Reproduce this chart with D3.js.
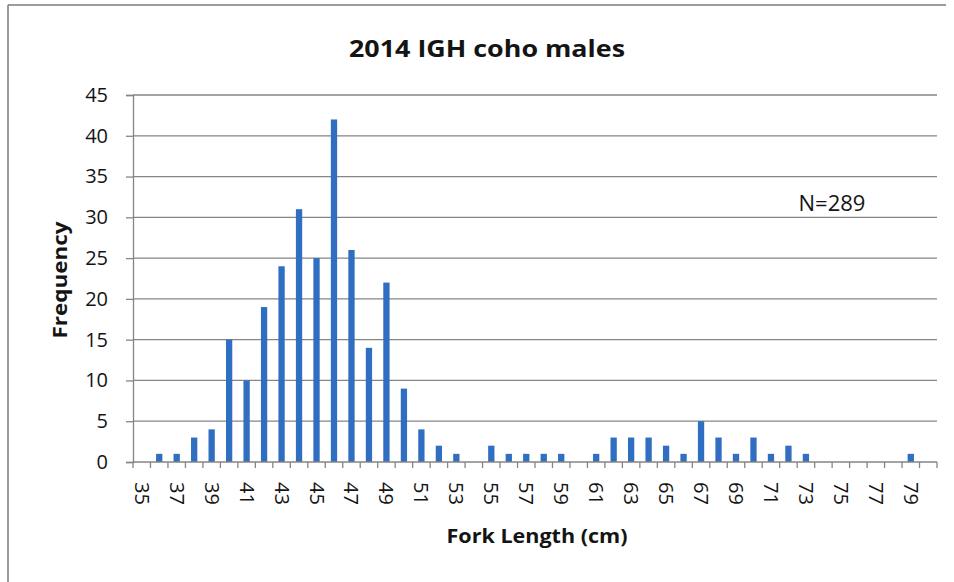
<!DOCTYPE html>
<html>
<head>
<meta charset="utf-8">
<script src="https://cdn.jsdelivr.net/npm/d3@7"></script>
<style>
  html, body { margin: 0; padding: 0; background: #fff; }
  svg { display: block; font-family: "Open Sans", "Liberation Sans", sans-serif; }
</style>
</head>
<body>
<svg id="chart" width="954" height="582"></svg>
<script>
// Fork length classes (cm), 35 through 80
const lengths = d3.range(35, 81);
// Number of males in each length class
const frequency = [
  0, 1, 1, 3, 4, 15, 10, 19, 24, 31,
  25, 42, 26, 14, 22, 9, 4, 2, 1, 0,
  2, 1, 1, 1, 1, 0, 1, 3, 3, 3,
  2, 1, 5, 3, 1, 3, 1, 2, 1, 0,
  0, 0, 0, 0, 1, 0
];
const yTicks = [0, 5, 10, 15, 20, 25, 30, 35, 40, 45];
const xTickLabels = lengths.filter(v => v % 2 === 1 && v <= 79);
const chartTitle = "2014 IGH coho males";
const xTitle = "Fork Length (cm)";
const yTitle = "Frequency";
const note = "N=289";

const svg = d3.select("#chart");
const plot = { left: 133, right: 937, top: 95, bottom: 462 };
const ink = "#141414";

const x = d3.scaleBand()
  .domain(lengths)
  .range([plot.left, plot.right])
  .paddingInner(0.64)
  .paddingOuter(0.32);

const y = d3.scaleLinear()
  .domain([0, 45])
  .range([plot.bottom, plot.top]);

// outer chart frame (top and left edges)
svg.append("line").attr("x1", 8).attr("x2", 946).attr("y1", 5).attr("y2", 5)
  .attr("stroke", "#7a7a7a").attr("stroke-width", 1.5);
svg.append("line").attr("x1", 8).attr("x2", 8).attr("y1", 5).attr("y2", 582)
  .attr("stroke", "#7a7a7a").attr("stroke-width", 1.5);

// horizontal gridlines
svg.append("g")
  .selectAll("line")
  .data(yTicks.filter(t => t > 0))
  .join("line")
  .attr("x1", plot.left).attr("x2", plot.right)
  .attr("y1", d => y(d)).attr("y2", d => y(d))
  .attr("stroke", "#858585").attr("stroke-width", 1.3);

// bars
svg.append("g")
  .selectAll("rect")
  .data(lengths.map((l, i) => ({ l, v: frequency[i] })).filter(d => d.v > 0))
  .join("rect")
  .attr("x", d => x(d.l))
  .attr("width", x.bandwidth())
  .attr("y", d => y(d.v))
  .attr("height", d => y(0) - y(d.v))
  .attr("fill", "#2f6ec0");

// y axis
const yAxis = svg.append("g")
  .attr("transform", `translate(${plot.left},0)`)
  .call(d3.axisLeft(y).tickValues(yTicks).tickSize(7).tickPadding(18));
yAxis.select(".domain").attr("stroke", "#858585").attr("stroke-width", 1.3);
yAxis.selectAll(".tick line").attr("stroke", "#858585").attr("stroke-width", 1.3);
yAxis.selectAll(".tick text")
  .attr("font-size", 20).attr("fill", ink)
  .attr("font-family", "'Open Sans', sans-serif");

// x axis: baseline with ticks on band boundaries
const xg = svg.append("g");
xg.append("line")
  .attr("x1", plot.left).attr("x2", plot.right)
  .attr("y1", plot.bottom).attr("y2", plot.bottom)
  .attr("stroke", "#858585").attr("stroke-width", 1.3);
const step = x.step();
const boundaries = d3.range(lengths.length + 1).map(i => plot.left + i * step);
xg.selectAll("line.tk")
  .data(boundaries)
  .join("line")
  .attr("class", "tk")
  .attr("x1", d => d).attr("x2", d => d)
  .attr("y1", plot.bottom).attr("y2", plot.bottom + 6)
  .attr("stroke", "#858585").attr("stroke-width", 1.3);

// rotated category labels for odd lengths
xg.selectAll("text")
  .data(xTickLabels)
  .join("text")
  .attr("transform", d => `translate(${x(d) + x.bandwidth() / 2},${plot.bottom + 20}) rotate(90)`)
  .attr("dy", "0.35em")
  .attr("text-anchor", "start")
  .attr("font-size", 20)
  .attr("fill", ink)
  .text(d => d);

// titles
svg.append("text")
  .attr("x", 487).attr("y", 57)
  .attr("text-anchor", "middle")
  .attr("font-size", 24).attr("font-weight", "bold").attr("fill", ink)
  .attr("textLength", 276).attr("lengthAdjust", "spacingAndGlyphs")
  .text(chartTitle);

svg.append("text")
  .attr("x", 537).attr("y", 543)
  .attr("text-anchor", "middle")
  .attr("font-size", 19).attr("font-weight", "bold").attr("fill", ink)
  .attr("textLength", 181).attr("lengthAdjust", "spacingAndGlyphs")
  .text(xTitle);

svg.append("text")
  .attr("transform", "translate(67,280) rotate(-90)")
  .attr("text-anchor", "middle")
  .attr("font-size", 19).attr("font-weight", "bold").attr("fill", ink)
  .attr("textLength", 117).attr("lengthAdjust", "spacingAndGlyphs")
  .text(yTitle);

svg.append("text")
  .attr("x", 832).attr("y", 211)
  .attr("text-anchor", "middle")
  .attr("font-size", 22).attr("fill", ink)
  .text(note);
</script>
</body>
</html>
